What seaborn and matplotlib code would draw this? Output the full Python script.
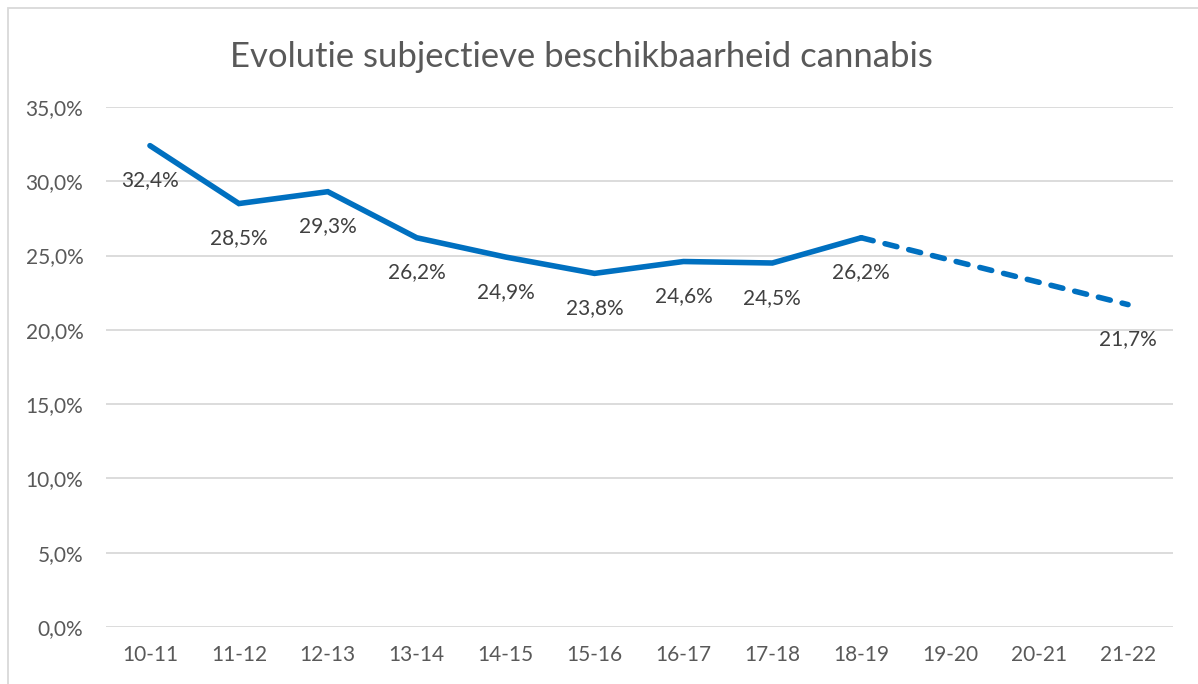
import matplotlib
matplotlib.use("Agg")
import matplotlib.pyplot as plt
import matplotlib.patches as mpatches
import seaborn as sns
import pandas as pd
import numpy as np

categories = ["10-11", "11-12", "12-13", "13-14", "14-15", "15-16",
              "16-17", "17-18", "18-19", "19-20", "20-21", "21-22"]
values = [32.4, 28.5, 29.3, 26.2, 24.9, 23.8, 24.6, 24.5, 26.2, np.nan, np.nan, 21.7]
y_ticks = [0, 5, 10, 15, 20, 25, 30, 35]
title = "Evolutie subjectieve beschikbaarheid cannabis"

sns.set_theme(style="white")
plt.rcParams['font.family'] = ['Lato', 'DejaVu Sans']

W, H = 1198, 684
fig = plt.figure(figsize=(W / 100, H / 100), dpi=100)
ax = fig.add_axes([105.5 / W, (H - 627) / H, (1172.5 - 105.5) / W, (627 - 107) / H])

df = pd.DataFrame({"idx": np.arange(len(categories)), "cat": categories, "val": values})
solid = df.iloc[:9]
known = df.dropna()
dashed = known[known["idx"] >= 8]

blue = "#0070C0"
sns.lineplot(data=solid, x="idx", y="val", ax=ax, color=blue, linewidth=4.0,
             solid_capstyle="round", solid_joinstyle="miter", zorder=3)
sns.lineplot(data=dashed, x="idx", y="val", ax=ax, color=blue, linewidth=4.0,
             linestyle=(0, (2.2, 2.2)), dash_capstyle="round", zorder=3)

for _, r in known.iterrows():
    ax.annotate(f"{r['val']:.1f}%".replace(".", ","), (r["idx"], r["val"]),
                xytext=(0, -25), textcoords="offset points",
                ha="center", va="center", fontsize=15, color="#404040", zorder=4)

ax.set_xlim(-0.5, len(categories) - 0.5)
ax.set_ylim(0, 35)
ax.set_xticks(df["idx"])
ax.set_xticklabels(categories)
ax.set_yticks(y_ticks)
ax.set_yticklabels([f"{v:.1f}%".replace(".", ",") for v in y_ticks])
ax.tick_params(axis="both", length=0, labelsize=15, labelcolor="#595959")
ax.tick_params(axis="y", pad=16)
ax.tick_params(axis="x", pad=13)
ax.set_xlabel("")
ax.set_ylabel("")
ax.grid(axis="y", color="#D9D9D9", linewidth=1.3)
ax.grid(axis="x", visible=False)
for s in ax.spines.values():
    s.set_visible(False)

fig.text(581.5 / W, (H - 67) / H, title, ha="center", va="baseline",
         fontsize=24.9, color="#595959")

border = mpatches.Rectangle((7.5 / W, -0.1), 1.2, (H - 7.5) / H + 0.1,
                            transform=fig.transFigure, fill=False,
                            edgecolor="#D9D9D9", linewidth=1.3, clip_on=False)
fig.patches.append(border)

fig.savefig("out.png", dpi=100)
